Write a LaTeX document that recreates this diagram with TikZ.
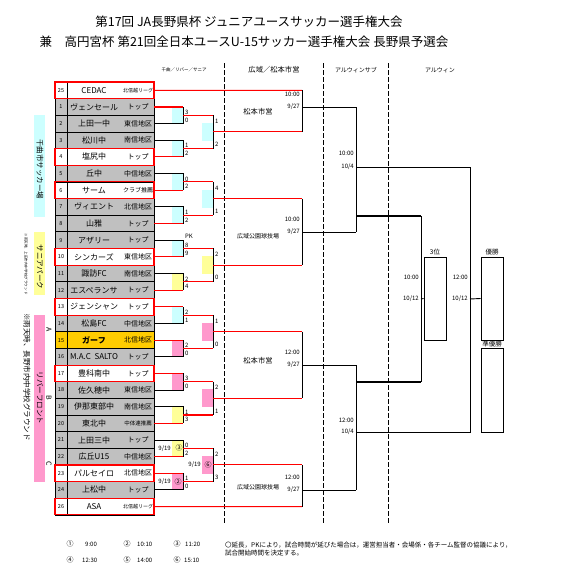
\documentclass[tikz,border=0pt]{standalone}
\usepackage{fontspec}
\setmainfont{Noto Sans CJK JP}
\newcommand{\jsize}[1]{\fontsize{#1}{#1}\selectfont}
\definecolor{cellgray}{RGB}{192,192,192}
\definecolor{boxcyan}{RGB}{204,255,255}
\definecolor{boxyellow}{RGB}{255,255,153}
\definecolor{boxpink}{RGB}{255,153,204}
\definecolor{garf}{RGB}{255,204,0}
\tikzset{
  winline/.style={red, line width=1.1pt},
  loseline/.style={black, line width=0.9pt},
  thirdline/.style={black, line width=2.2pt},
  dashline/.style={black, line width=0.7pt, dash pattern=on 5pt off 2pt},
  titletext/.style={inner sep=0pt, font=\jsize{12.5}},
  headtext/.style={inner sep=0pt, font=\jsize{6}},
  sidetext/.style={rotate=-90, inner sep=0pt, font=\jsize{7.5}},
  scoretext/.style={anchor=west, inner sep=0pt, font=\jsize{6}},
  datetext/.style={anchor=east, inner sep=0pt, font=\jsize{6}},
  venuetext/.style={inner sep=0pt, font=\jsize{6}},
  resultbox/.style={draw, line width=0.9pt, minimum width=22pt, inner sep=0pt},
  notetext/.style={anchor=west, inner sep=0pt, font=\jsize{6.5}},
}
\begin{document}
\begin{tikzpicture}[x=1pt,y=-1pt]
  % page
  \path[fill=white] (0,0) rectangle (565,576);
  % title
  \node[titletext] (title1) at (249,22) {第17回 JA長野県杯 ジュニアユースサッカー選手権大会};
  \node[titletext] (title2) at (244,42) {兼　高円宮杯 第21回全日本ユースU-15サッカー選手権大会 長野県予選会};
  % column heads
  \node[headtext, font=\jsize{4.5}] (headA) at (184,70) {千曲／リバー／サニア};
  \node[headtext, font=\jsize{7.3}] (headB) at (274,70) {広域／松本市営};
  \node[headtext] (headC) at (356,70) {アルウィンサブ};
  \node[headtext] (headD) at (440,70) {アルウィン};
  \foreach \x in {224,323,388}
    \draw[dashline] (\x,63) -- (\x,523);

  % venues on the left
  \fill[boxcyan] (34,115) rectangle (45,217);
  \fill[boxyellow] (34,232) rectangle (45,295);
  \fill[boxpink] (34,315) rectangle (45,482);
  \node[sidetext] (venueA) at (40,169) {千曲市サッカー場};
  \node[sidetext] (venueB) at (40,267) {サニアパーク};
  \node[sidetext] (venueC) at (40,398) {リバーフロント};
  \node[sidetext, font=\jsize{3.6}] (rainB) at (26,264) {※雨天時、上田市内中学校グラウンド};
  \node[sidetext] (rainC) at (27,377) {※雨天時、長野市内中学校グラウンド};
  \node[sidetext, font=\jsize{7}] (groupA) at (49,330) {A};
  \node[sidetext, font=\jsize{7}] (groupB) at (49,398) {B};
  \node[sidetext, font=\jsize{7}] (groupC) at (49,464) {C};

  % team table
  \foreach \k/\no/\team/\area/\asize/\cell in {
      0/25/CEDAC/北信越リーグ/5/white,
      1/1/ヴェンセール/トップ/7/cellgray,
      2/2/上田一中/東信地区/7/cellgray,
      3/3/松川中/南信地区/7/cellgray,
      4/4/塩尻中/トップ/7/white,
      5/5/丘中/中信地区/7/cellgray,
      6/6/サーム/クラブ推薦/6/white,
      7/7/ヴィエント/北信地区/7/cellgray,
      8/8/山雅/トップ/7/cellgray,
      9/9/アザリー/トップ/7/cellgray,
      10/10/シンカーズ/東信地区/7/white,
      11/11/諏訪FC/南信地区/7/cellgray,
      12/12/エスペランサ/トップ/7/cellgray,
      13/13/ジェンシャン/トップ/7/white,
      14/14/松島FC/中信地区/7/cellgray,
      15/15/{\bfseries ガーフ}/北信地区/7/garf,
      16/16/M.A.C\ \ SALTO/トップ/7/cellgray,
      17/17/豊科南中/トップ/7/white,
      18/18/佐久穂中/東信地区/7/cellgray,
      19/19/伊那東部中/南信地区/7/cellgray,
      20/20/東北中/中体連推薦/5.5/cellgray,
      21/21/上田三中/トップ/7/cellgray,
      22/22/広丘U15/中信地区/7/cellgray,
      23/23/パルセイロ/北信地区/7/white,
      24/24/上松中/トップ/7/cellgray,
      25/26/ASA/北信越リーグ/5/white}{
    \pgfmathsetmacro\rowtop{82+16.65*\k}
    \pgfmathsetmacro\rowmid{\rowtop+8.325}
    \fill[\cell] (55,\rowtop) rectangle (154,\rowtop+16.65);
    \node[inner sep=0pt, font=\jsize{5.5}] (no\k) at (61,\rowmid) {\no};
    \node[inner sep=0pt, font=\jsize{8}] (team\k) at (94,\rowmid) {\team};
    \node[inner sep=0pt, font=\jsize{\asize}] (area\k) at (138,\rowmid) {\area};
    \coordinate (t\k) at (154,\rowmid);
    \coordinate (b\k) at (183,\rowmid);
  }
  \draw[black, line width=0.8pt] (55,82) rectangle (154,515);
  \draw[black, line width=0.8pt] (67,82) -- (67,515);
  \foreach \k in {1,...,25}
    \draw[black, line width=0.8pt] (55,82+16.65*\k) -- (154,82+16.65*\k);
  \foreach \k in {0,4,6,10,13,17,23,25}
    \draw[red, line width=1.1pt] (55,82+16.65*\k) rectangle (154,98.65+16.65*\k);

  % first round
  \foreach \p/\sa/\sb/\w/\col in {1/3/0/0/boxcyan, 2/1/2/1/boxcyan,
      3/0/2/1/boxcyan, 4/1/2/1/boxcyan, 5/8/9/1/boxcyan, 6/2/4/1/boxyellow,
      7/2/1/0/boxcyan, 8/2/0/0/boxpink, 9/3/0/0/boxpink, 10/1/3/1/boxyellow,
      11/0/2/1/boxyellow, 12/1/0/0/boxpink}{
    \pgfmathtruncatemacro\ra{2*\p-1}
    \pgfmathtruncatemacro\rb{2*\p}
    \pgfmathtruncatemacro\rw{\ra+\w}
    \pgfmathtruncatemacro\rl{\rb-\w}
    \pgfmathsetmacro\ya{90.3+16.65*\ra}
    \pgfmathsetmacro\yb{\ya+16.65}
    \pgfmathsetmacro\ym{\ya+8.325}
    \coordinate (m\p) at (183,\ym);
    \coordinate (n\p) at (213,\ym);
    \fill[\col] (172,\ya) rectangle (183,\yb);
    \draw[loseline] (t\rl) -- (b\rl) -- (b\rw);
    \draw[winline] (t\rw) -- (b\rw);
    \draw[winline] (m\p) -- (n\p);
    \node[scoretext] (sa\p) at (185,\ya+5.5) {\sa};
    \node[scoretext] (sb\p) at (185,\yb-3.5) {\sb};
  }
  \node[scoretext] (pk) at (185,236.5) {PK};
  \node[datetext] (day11) at (171,448.3) {9/19};
  \node[inner sep=0pt, font=\jsize{7}] (slot11) at (179,448.3) {③};
  \node[datetext] (day12) at (171,481.6) {9/19};
  \node[inner sep=0pt, font=\jsize{7}] (slot12) at (178,481.6) {②};

  % second round
  \foreach \q/\sa/\sb/\w/\col in {1/1/2/1/boxcyan, 2/4/1/0/boxcyan,
      3/2/0/0/boxyellow, 4/1/0/0/boxpink, 5/2/1/0/boxpink, 6/2/3/1/boxpink}{
    \pgfmathtruncatemacro\pa{2*\q-1}
    \pgfmathtruncatemacro\pb{2*\q}
    \pgfmathsetmacro\ya{115.275+66.6*(\q-1)}
    \pgfmathsetmacro\yb{\ya+33.3}
    \pgfmathsetmacro\ym{\ya+16.65}
    \coordinate (v\q) at (213,\ym);
    \coordinate (s\q) at (302,\ym);
    \fill[\col] (202,\ym-9) rectangle (213,\ym+9);
    \draw[loseline] (n\pa) -- (n\pb);
    \draw[winline] (v\q) -- (s\q);
    \node[scoretext] (ta\q) at (215,\ya+6) {\sa};
    \node[scoretext] (tb\q) at (215,\yb-4) {\sb};
  }
  \node[datetext] (day6) at (201,465) {9/19};
  \node[inner sep=0pt, font=\jsize{7}] (slot6) at (208,465) {⑥};

  % third round
  \coordinate (c0) at (302,90.3);
  \coordinate (c25) at (302,506.6);
  \draw[winline] (t0) -- (c0);
  \draw[winline] (t25) -- (c25);
  \draw[loseline] (c0) -- (s1);
  \draw[loseline] (s2) -- (s3);
  \draw[loseline] (s4) -- (s5);
  \draw[loseline] (s6) -- (c25);
  \foreach \g/\y/\hour/\place in {a/107/10:00/松本市営, b/232/10:00/広域公園球技場,
      c/365/12:00/松本市営, d/490/12:00/広域公園球技場}{
    \coordinate (q\g) at (302,\y);
    \coordinate (u\g) at (356,\y);
    \draw[loseline] (q\g) -- (u\g);
    \node[datetext] (hour\g) at (300,\y-13) {\hour};
    \node[datetext] (day\g) at (300,\y) {9/27};
  }
  \node[venuetext, font=\jsize{7.3}] (placea) at (258,112) {松本市営};
  \node[venuetext] (placeb) at (258,236) {広域公園球技場};
  \node[venuetext, font=\jsize{7.3}] (placec) at (258,361) {松本市営};
  \node[venuetext] (placed) at (258,487) {広域公園球技場};

  % semi finals
  \coordinate (fa) at (356,167);
  \coordinate (fb) at (356,432);
  \coordinate (ga) at (470,167);
  \coordinate (gb) at (470,432);
  \draw[loseline] (ua) -- (ub);
  \draw[loseline] (uc) -- (ud);
  \draw[loseline] (fa) -- (ga) -- (gb) -- (fb);
  \node[datetext] (semihour1) at (354,153) {10:00};
  \node[datetext] (semiday1) at (354,167) {10/4};
  \node[datetext] (semihour2) at (354,420) {12:00};
  \node[datetext] (semiday2) at (354,432) {10/4};

  % third place
  \coordinate (ha) at (356,216);
  \coordinate (hb) at (356,382);
  \coordinate (ia) at (421,216);
  \coordinate (ib) at (421,382);
  \coordinate (im) at (421,299);
  \draw[thirdline] (ha) -- (ia);
  \draw[thirdline] (hb) -- (ib);
  \draw[loseline] (ia) -- (ib);
  \node[resultbox, minimum height=83pt] (third) at (435,298.5) {};
  \draw[loseline] (im) -- (third.west);
  \node[venuetext, font=\jsize{6.5}] (thirdlabel) at (435,252) {3位};
  \node[datetext] (thirdhour) at (419,277) {10:00};
  \node[datetext] (thirdday) at (419,299) {10/12};

  % final
  \coordinate (gm) at (470,299);
  \node[resultbox, minimum height=83pt] (champ) at (492,298.5) {};
  \node[resultbox, minimum height=84pt] (second) at (492,390) {};
  \draw[loseline] (gm) -- (champ.west);
  \node[venuetext, font=\jsize{6.5}] (champlabel) at (492,252) {優勝};
  \node[venuetext, font=\jsize{6.5}, fill=white] (secondlabel) at (492,344) {準優勝};
  \node[datetext] (finalhour) at (468,277) {12:00};
  \node[datetext] (finalday) at (468,299) {10/12};

  % kick-off times
  \foreach \i/\x/\y/\t/\tx in {①/70/544/9:00/85, ②/127/544/10:10/137, ③/177/544/11:20/185,
      ④/70/560/12:30/82, ⑤/127/560/14:00/137, ⑥/177/560/15:10/184}{
    \node[inner sep=0pt, font=\jsize{7}] at (\x,\y) {\i};
    \node[notetext, font=\jsize{6}] at (\tx,\y) {\t};
  }
  \node[notetext] (note1) at (225,545) {〇延長，PKにより，試合時間が延びた場合は，運営担当者・会場係・各チーム監督の協議により，};
  \node[notetext] (note2) at (225,553) {試合開始時間を決定する。};
\end{tikzpicture}
\end{document}
